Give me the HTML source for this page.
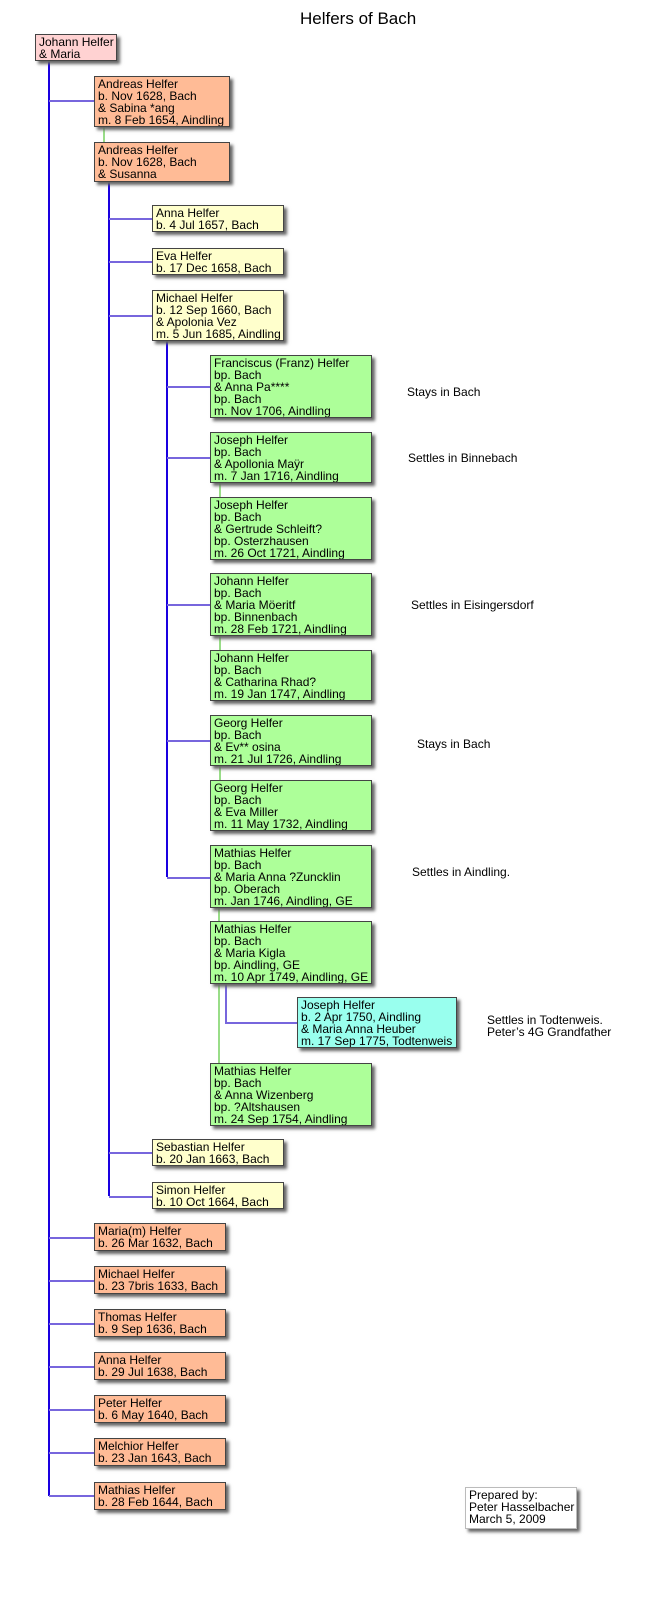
<!DOCTYPE html>
<html><head><meta charset="utf-8"><style>
body{margin:0;width:653px;height:1601px;background:#fff;position:relative;font-family:"Liberation Sans",sans-serif;overflow:hidden}
.b{position:absolute;border:1px solid #444;box-shadow:3px 3px 3px #666;font-size:12px;line-height:12px;padding:1px 3px 0 3px;box-sizing:border-box;color:#000;white-space:nowrap;overflow:hidden}
.p{background:#ffd2d2}.o{background:#ffbb96}.y{background:#ffffcc}.g{background:#adff99}.c{background:#99ffee}.w{background:#fff}
.l{position:absolute}
.v{background:#1a00e0;width:2px}
.h{background:#7766dd;height:1.5px}
.gr{background:#99dd88;width:2px}
.t{position:absolute;font-size:12px;line-height:12.3px;white-space:nowrap}
</style></head><body>
<div class="t" style="left:300px;top:9px;font-size:17px;line-height:20px">Helfers of Bach</div>

<div class="l v" style="left:48px;top:61px;height:1435px"></div>
<div class="l h" style="left:49px;top:100px;width:45px"></div>
<div class="l gr" style="left:103px;top:127px;height:15px"></div>
<div class="l v" style="left:108px;top:182px;height:1014px"></div>
<div class="l h" style="left:109px;top:218px;width:43px"></div>
<div class="l h" style="left:109px;top:261px;width:43px"></div>
<div class="l h" style="left:109px;top:315px;width:43px"></div>
<div class="l h" style="left:109px;top:1152px;width:43px"></div>
<div class="l h" style="left:109px;top:1196px;width:43px"></div>
<div class="l v" style="left:166px;top:341px;height:536px"></div>
<div class="l h" style="left:167px;top:386px;width:43px"></div>
<div class="l h" style="left:167px;top:457px;width:43px"></div>
<div class="l h" style="left:167px;top:604px;width:43px"></div>
<div class="l h" style="left:167px;top:740px;width:43px"></div>
<div class="l h" style="left:167px;top:877px;width:43px"></div>
<div class="l gr" style="left:219px;top:483px;height:14px"></div>
<div class="l gr" style="left:219px;top:636px;height:14px"></div>
<div class="l gr" style="left:219px;top:766px;height:14px"></div>
<div class="l gr" style="left:218px;top:908px;height:155px"></div>
<div class="l" style="left:225px;top:984px;height:39px;width:1.5px;background:#7766dd"></div>
<div class="l h" style="left:225px;top:1022px;width:72px"></div>
<div class="l h" style="left:49px;top:1237px;width:45px"></div>
<div class="l h" style="left:49px;top:1280px;width:45px"></div>
<div class="l h" style="left:49px;top:1323px;width:45px"></div>
<div class="l h" style="left:49px;top:1366px;width:45px"></div>
<div class="l h" style="left:49px;top:1409px;width:45px"></div>
<div class="l h" style="left:49px;top:1452px;width:45px"></div>
<div class="l h" style="left:49px;top:1495px;width:45px"></div>

<div class="b p" style="left:35px;top:34px;width:82px;height:27px">Johann Helfer<br>&amp; Maria</div>
<div class="b o" style="left:94px;top:76px;width:136px;height:51px">Andreas Helfer<br>b. Nov 1628, Bach<br>&amp; Sabina *ang<br>m. 8 Feb 1654, Aindling</div>
<div class="b o" style="left:94px;top:142px;width:136px;height:40px">Andreas Helfer<br>b. Nov 1628, Bach<br>&amp; Susanna</div>
<div class="b y" style="left:152px;top:205px;width:132px;height:27px">Anna Helfer<br>b. 4 Jul 1657, Bach</div>
<div class="b y" style="left:152px;top:248px;width:132px;height:27px">Eva Helfer<br>b. 17 Dec 1658, Bach</div>
<div class="b y" style="left:152px;top:290px;width:132px;height:51px">Michael Helfer<br>b. 12 Sep 1660, Bach<br>&amp; Apolonia Vez<br>m. 5 Jun 1685, Aindling</div>
<div class="b g" style="left:210px;top:355px;width:162px;height:63px">Franciscus (Franz) Helfer<br>bp. Bach<br>&amp; Anna Pa****<br>bp. Bach<br>m. Nov 1706, Aindling</div>
<div class="b g" style="left:210px;top:432px;width:162px;height:51px">Joseph Helfer<br>bp. Bach<br>&amp; Apollonia Maÿr<br>m. 7 Jan 1716, Aindling</div>
<div class="b g" style="left:210px;top:497px;width:162px;height:63px">Joseph Helfer<br>bp. Bach<br>&amp; Gertrude Schleift?<br>bp. Osterzhausen<br>m. 26 Oct 1721, Aindling</div>
<div class="b g" style="left:210px;top:573px;width:162px;height:63px">Johann Helfer<br>bp. Bach<br>&amp; Maria Möeritf<br>bp. Binnenbach<br>m. 28 Feb 1721, Aindling</div>
<div class="b g" style="left:210px;top:650px;width:162px;height:51px">Johann Helfer<br>bp. Bach<br>&amp; Catharina Rhad?<br>m. 19 Jan 1747, Aindling</div>
<div class="b g" style="left:210px;top:715px;width:162px;height:51px">Georg Helfer<br>bp. Bach<br>&amp; Ev** osina<br>m. 21 Jul 1726, Aindling</div>
<div class="b g" style="left:210px;top:780px;width:162px;height:51px">Georg Helfer<br>bp. Bach<br>&amp; Eva Miller<br>m. 11 May 1732, Aindling</div>
<div class="b g" style="left:210px;top:845px;width:162px;height:63px">Mathias Helfer<br>bp. Bach<br>&amp; Maria Anna ?Zuncklin<br>bp. Oberach<br>m. Jan 1746, Aindling, GE</div>
<div class="b g" style="left:210px;top:921px;width:162px;height:63px">Mathias Helfer<br>bp. Bach<br>&amp; Maria Kigla<br>bp. Aindling, GE<br>m. 10 Apr 1749, Aindling, GE</div>
<div class="b c" style="left:297px;top:997px;width:160px;height:51px">Joseph Helfer<br>b. 2 Apr 1750, Aindling<br>&amp; Maria Anna Heuber<br>m. 17 Sep 1775, Todtenweis</div>
<div class="b g" style="left:210px;top:1063px;width:162px;height:63px">Mathias Helfer<br>bp. Bach<br>&amp; Anna Wizenberg<br>bp. ?Altshausen<br>m. 24 Sep 1754, Aindling</div>
<div class="b y" style="left:152px;top:1139px;width:132px;height:27px">Sebastian Helfer<br>b. 20 Jan 1663, Bach</div>
<div class="b y" style="left:152px;top:1182px;width:132px;height:27px">Simon Helfer<br>b. 10 Oct 1664, Bach</div>
<div class="b o" style="left:94px;top:1223px;width:132px;height:28px">Maria(m) Helfer<br>b. 26 Mar 1632, Bach</div>
<div class="b o" style="left:94px;top:1266px;width:132px;height:28px">Michael Helfer<br>b. 23 7bris 1633, Bach</div>
<div class="b o" style="left:94px;top:1309px;width:132px;height:28px">Thomas Helfer<br>b. 9 Sep 1636, Bach</div>
<div class="b o" style="left:94px;top:1352px;width:132px;height:28px">Anna Helfer<br>b. 29 Jul 1638, Bach</div>
<div class="b o" style="left:94px;top:1395px;width:132px;height:28px">Peter Helfer<br>b. 6 May 1640, Bach</div>
<div class="b o" style="left:94px;top:1438px;width:132px;height:28px">Melchior Helfer<br>b. 23 Jan 1643, Bach</div>
<div class="b o" style="left:94px;top:1482px;width:132px;height:28px">Mathias Helfer<br>b. 28 Feb 1644, Bach</div>
<div class="b w" style="left:465px;top:1487px;width:112px;height:42px;border-color:#bbb">Prepared by:<br>Peter Hasselbacher<br>March 5, 2009</div>

<div class="t" style="left:407px;top:386px">Stays in Bach</div>
<div class="t" style="left:408px;top:452px">Settles in Binnebach</div>
<div class="t" style="left:411px;top:599px">Settles in Eisingersdorf</div>
<div class="t" style="left:417px;top:738px">Stays in Bach</div>
<div class="t" style="left:412px;top:866px">Settles in Aindling.</div>
<div class="t" style="left:487px;top:1014px">Settles in Todtenweis.<br>Peter’s 4G Grandfather</div>
</body></html>
